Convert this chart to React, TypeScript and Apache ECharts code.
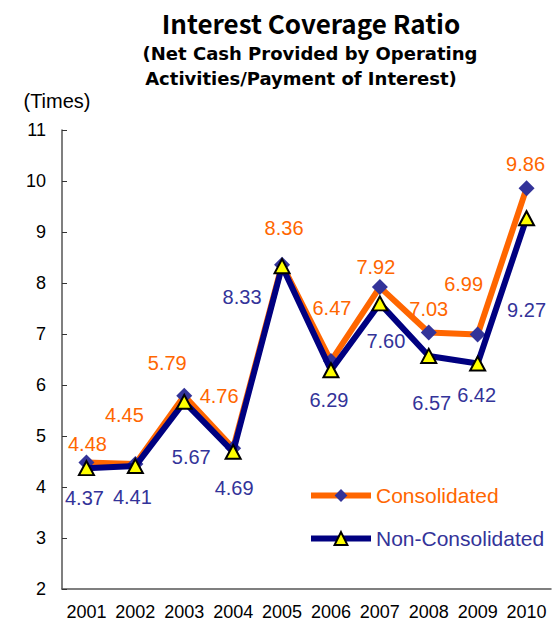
import React, { useEffect, useRef } from "react";
import * as echarts from "echarts";

const years = ["2001", "2002", "2003", "2004", "2005", "2006", "2007", "2008", "2009", "2010"];
const consolidated = [4.48, 4.45, 5.79, 4.76, 8.36, 6.47, 7.92, 7.03, 6.99, 9.86];
const nonConsolidated = [4.37, 4.41, 5.67, 4.69, 8.33, 6.29, 7.6, 6.57, 6.42, 9.27];
const consLabelOffsets = [[1, -19], [-11, -49], [-17, -33], [-14, -52], [2, -37], [1, -53], [-4, -20], [0, -23], [-14, -51], [-1, -24]];
const nonLabelOffsets = [[-2, 30], [-3, 31], [7, 55], [1, 36], [-40, 31], [-2, 30], [6, 38], [3, 47], [-1, 31], [0, 92]];

const ORANGE = "#FF6600";
const NAVY = "#000080";
const BLUE = "#333399";
const LABEL_FONT = "'Liberation Sans', Arial, sans-serif";
const TITLE_FONT = "'Noto Sans CJK JP', 'Noto Sans', sans-serif";
const SUB_FONT = "'DejaVu Sans', sans-serif";

export default function App() {
  const ref = useRef<HTMLDivElement>(null);
  useEffect(() => {
    document.body.style.margin = "0";
    const chart = echarts.init(ref.current!, null, { renderer: "svg" });
    chart.setOption({
      animation: false,
      backgroundColor: "#ffffff",
      graphic: [
        { type: "text", x: 311, y: 22, style: { text: "Interest Coverage Ratio", font: `bold 26px ${TITLE_FONT}`, fill: "#000", textAlign: "center", textVerticalAlign: "middle" } },
        { type: "text", x: 310, y: 53, style: { text: "(Net Cash Provided by Operating", font: `bold 18px ${SUB_FONT}`, fill: "#000", textAlign: "center", textVerticalAlign: "middle" } },
        { type: "text", x: 301, y: 78, style: { text: "Activities/Payment of Interest)", font: `bold 18px ${SUB_FONT}`, fill: "#000", textAlign: "center", textVerticalAlign: "middle" } },
        { type: "text", x: 57, y: 101, style: { text: "(Times)", font: `20px ${LABEL_FONT}`, fill: "#000", textAlign: "center", textVerticalAlign: "middle" } },
      ],
      grid: { left: 62, right: 1, top: 130, bottom: 36, containLabel: false },
      legend: {
        orient: "vertical",
        left: 308,
        top: 485,
        padding: 0,
        itemWidth: 60,
        itemHeight: 16,
        itemGap: 22,
        lineStyle: { width: 6 },
        data: [
          { name: "Consolidated", textStyle: { color: ORANGE } },
          { name: "Non-Consolidated", textStyle: { color: BLUE } },
        ],
        textStyle: { fontSize: 21, fontFamily: LABEL_FONT },
      },
      xAxis: {
        type: "category",
        data: years,
        boundaryGap: true,
        axisLine: { lineStyle: { color: "#555", width: 1.5 } },
        axisTick: { inside: true, length: 5, lineStyle: { color: "#333" } },
        axisLabel: { color: "#000", fontSize: 18, fontFamily: LABEL_FONT, margin: 14, interval: 0 },
      },
      yAxis: {
        type: "value",
        min: 2,
        max: 11,
        interval: 1,
        splitLine: { show: false },
        axisLine: { show: true, lineStyle: { color: "#555", width: 1.5 } },
        axisTick: { show: true, inside: true, length: 5, lineStyle: { color: "#333" } },
        axisLabel: { color: "#000", fontSize: 18, fontFamily: LABEL_FONT, margin: 16 },
      },
      series: [
        {
          name: "Consolidated",
          type: "line",
          data: consolidated.map((v, i) => ({ value: v, label: { offset: consLabelOffsets[i] } })),
          lineStyle: { color: ORANGE, width: 6 },
          itemStyle: { color: BLUE, borderWidth: 0 },
          color: ORANGE,
          symbol: "diamond",
          symbolSize: 16,
          showAllSymbol: true,
          label: {
            show: true,
            position: "inside",
            color: ORANGE,
            fontSize: 20,
            fontFamily: LABEL_FONT,
            formatter: (p: any) => Number(p.value).toFixed(2),
          },
          z: 2,
        },
        {
          name: "Non-Consolidated",
          type: "line",
          data: nonConsolidated.map((v, i) => ({ value: v, label: { offset: nonLabelOffsets[i] } })),
          lineStyle: { color: NAVY, width: 6 },
          itemStyle: { color: "#FFFF00", borderColor: "#000", borderWidth: 2 },
          color: NAVY,
          symbol: "triangle",
          symbolSize: [15, 14],
          showAllSymbol: true,
          label: {
            show: true,
            position: "inside",
            color: BLUE,
            fontSize: 20,
            fontFamily: LABEL_FONT,
            formatter: (p: any) => Number(p.value).toFixed(2),
          },
          z: 3,
        },
      ],
    });
    return () => chart.dispose();
  }, []);
  return <div ref={ref} style={{ position: "absolute", left: 0, top: 0, width: 552, height: 625 }} />;
}
